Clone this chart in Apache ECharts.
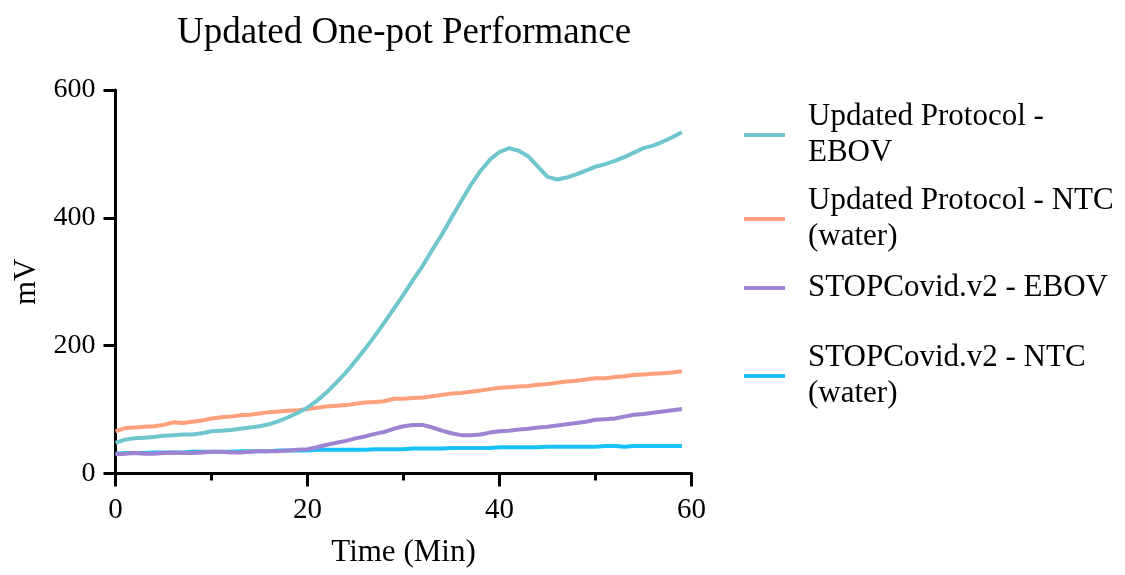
<!DOCTYPE html>
<html>
<head>
<meta charset="utf-8">
<script src="https://cdn.jsdelivr.net/npm/echarts@6/dist/echarts.min.js"></script>
<style>html,body{margin:0;padding:0;background:#fff}#c{width:1125px;height:575px}</style>
</head>
<body>
<div id="c"></div>
<script>
const times = [0,1,2,3,4,5,6,7,8,9,10,11,12,13,14,15,16,17,18,19,20,21,22,23,24,25,26,27,28,29,30,31,32,33,34,35,36,37,38,39,40,41,42,43,44,45,46,47,48,49,50,51,52,53,54,55,56,57,58,59];
const updatedEBOV = [48,53,55,56,57,59,60,61,61,63,66,67,68,70,72,74,77,82,88,95,103,114,127,142,158,176,195,215,236,258,280,303,325,350,374,400,426,451,473,491,503,509,505,496,480,464,460,463,468,474,480,484,489,495,502,509,513,519,526,534];
const updatedNTC = [66,71,72,73,74,76,80,79,81,83,86,88,89,91,92,94,96,97,98,99,101,103,105,106,107,109,111,112,113,117,117,118,119,121,123,125,126,128,130,132,134,135,136,137,139,140,142,144,145,147,149,149,151,152,154,155,156,157,158,160];
const stopEBOV = [30,31,32,31,31,32,33,32,32,33,34,34,33,33,34,35,35,35,36,37,38,41,45,48,51,55,58,62,65,70,74,76,76,72,67,63,60,60,61,64,66,67,69,70,72,73,75,77,79,81,84,85,86,89,92,93,95,97,99,101];
const stopNTC = [31,32,32,32,33,33,33,33,34,34,34,34,34,35,35,35,35,36,36,36,36,37,37,37,37,37,37,38,38,38,38,39,39,39,39,40,40,40,40,40,41,41,41,41,41,42,42,42,42,42,42,43,43,42,43,43,43,43,43,43];
const seriesNames = ['Updated Protocol -\nEBOV','Updated Protocol - NTC\n(water)','STOPCovid.v2 - EBOV','STOPCovid.v2 - NTC\n(water)'];
const seriesValues = [updatedEBOV, updatedNTC, stopEBOV, stopNTC];
const colors = ['#6FC6CC','#FFA07C','#9F83D3','#18C2F7'];
const xTicks = [0,20,40,60];
const yTicks = [0,200,400,600];

const FONT = '"Liberation Serif","Times New Roman",serif';
const legendTops = [99, 183, 270, 340];

const chart = echarts.init(document.getElementById('c'), null, {renderer:'canvas'});
const option = {
  backgroundColor:'#fff',
  animation:false,
  title:{
    text:'Updated One-pot Performance',
    left:399, top:10, textAlign:'center',
    textStyle:{fontFamily:FONT,fontSize:37,fontWeight:'normal',color:'#000'}
  },
  legend: seriesNames.map((n,i)=>({
    data:[n],
    orient:'vertical',
    left:744, top:legendTops[i], padding:0,
    itemWidth:41, itemHeight:4, icon:'rect',
    textStyle:{fontFamily:FONT,fontSize:31,lineHeight:36,color:'#000',padding:[0,0,0,18]}
  })),
  grid:{left:115.5, right:433.5, top:90, bottom:101.5},
  xAxis:{
    type:'value', min:0, max:60, interval:20,
    name:'Time (Min)', nameLocation:'middle', nameGap:64,
    nameTextStyle:{fontFamily:FONT,fontSize:31,color:'#000'},
    axisLine:{lineStyle:{color:'#000',width:3}},
    axisTick:{show:true,length:13,lineStyle:{color:'#000',width:3}},
    minorTick:{show:true,splitNumber:2,length:7,lineStyle:{color:'#000',width:3}},
    axisLabel:{fontFamily:FONT,fontSize:29,color:'#000',margin:22,
      formatter:v=>xTicks.includes(v)?String(v):''},
    splitLine:{show:false}
  },
  yAxis:{
    type:'value', min:0, max:600, interval:200,
    name:'mV', nameLocation:'middle', nameGap:62,
    nameTextStyle:{fontFamily:FONT,fontSize:31,color:'#000'},
    axisLine:{show:true,lineStyle:{color:'#000',width:3}},
    axisTick:{show:true,length:12,lineStyle:{color:'#000',width:3}},
    axisLabel:{fontFamily:FONT,fontSize:28,color:'#000',margin:20,
      formatter:v=>yTicks.includes(v)?String(v):''},
    splitLine:{show:false}
  },
  series: seriesNames.map((n,i)=>({
    name:n, type:'line', showSymbol:false, symbol:'none',
    data: times.map((t,k)=>[t, seriesValues[i][k]]),
    lineStyle:{color:colors[i],width:4},
    itemStyle:{color:colors[i]},
    z: 10-i
  }))
};
chart.setOption(option);
</script>
</body>
</html>
